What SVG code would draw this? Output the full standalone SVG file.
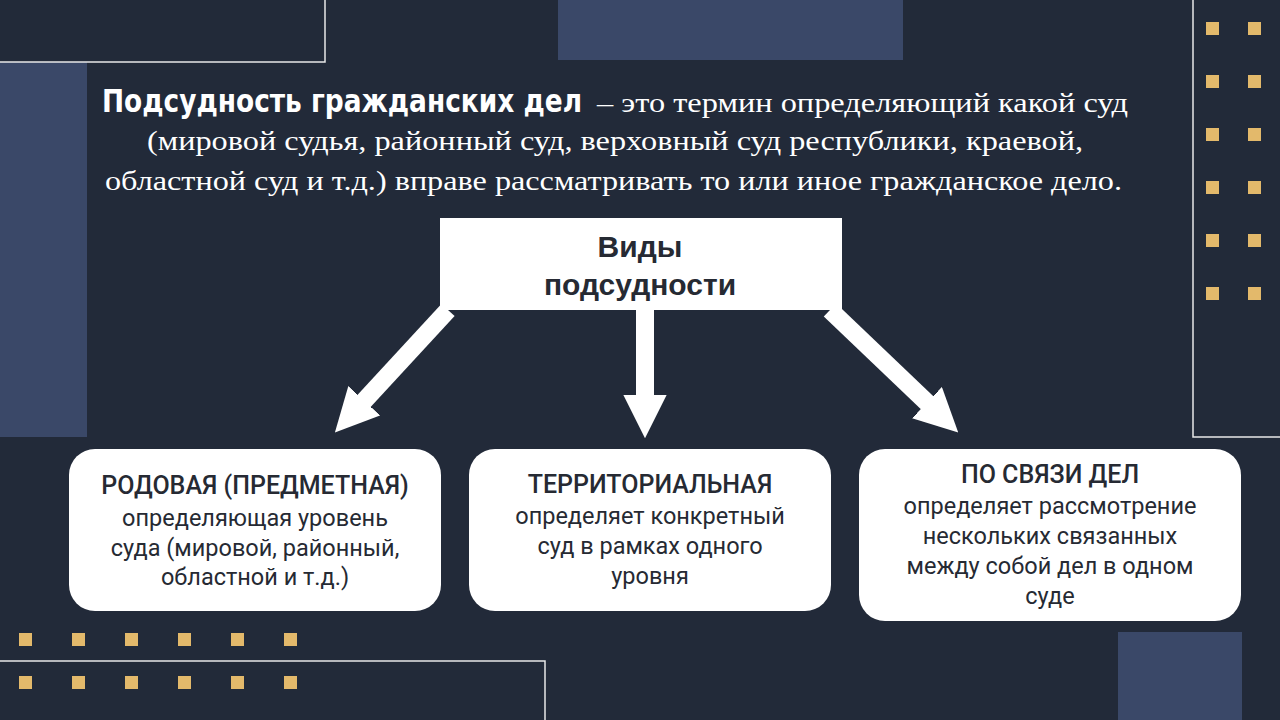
<svg xmlns="http://www.w3.org/2000/svg" width="1280" height="720" viewBox="0 0 1280 720">
<style>
.acc{fill:#3a4868}
.sq{fill:#e3b96b}
.ln{stroke:#e8e8e8;stroke-width:1.5;fill:none}
.box{fill:#fff}
.t{font-family:"Roboto","Liberation Sans",sans-serif;font-size:23.5px;fill:#262a33;text-anchor:middle}
.tb{font-weight:500;font-size:25px}
.big{font-family:"Liberation Sans",sans-serif;font-size:30px;font-weight:bold}
.ser{font-family:"Liberation Serif",serif;font-size:28px;fill:#fff}
.arr{stroke:#fff;stroke-width:18;fill:none}
</style>
<defs>
<marker id="ah" markerWidth="2.4" markerHeight="2.4" refX="1" refY="1.2" orient="auto" markerUnits="strokeWidth"><path d="M0,0 L2.4,1.2 L0,2.4 Z" fill="#fff"/></marker>
</defs>
<rect width="1280" height="720" fill="#222a39"/>
<rect class="acc" x="0" y="62" width="87" height="375"/>
<rect class="acc" x="558" y="0" width="345" height="60"/>
<rect class="acc" x="1118" y="632" width="124" height="88"/>
<path class="ln" d="M0,62 H325 V0"/>
<path class="ln" d="M1193,0 V437 H1280"/>
<path class="ln" d="M0,661 H545 V720"/>
<g>
<rect class="sq" x="1206" y="22" width="13" height="13"/><rect class="sq" x="1248" y="22" width="13" height="13"/>
<rect class="sq" x="1206" y="75" width="13" height="13"/><rect class="sq" x="1248" y="75" width="13" height="13"/>
<rect class="sq" x="1206" y="128" width="13" height="13"/><rect class="sq" x="1248" y="128" width="13" height="13"/>
<rect class="sq" x="1206" y="181" width="13" height="13"/><rect class="sq" x="1248" y="181" width="13" height="13"/>
<rect class="sq" x="1206" y="234" width="13" height="13"/><rect class="sq" x="1248" y="234" width="13" height="13"/>
<rect class="sq" x="1206" y="287" width="13" height="13"/><rect class="sq" x="1248" y="287" width="13" height="13"/>
<rect class="sq" x="19" y="633" width="13" height="13"/><rect class="sq" x="72" y="633" width="13" height="13"/><rect class="sq" x="125" y="633" width="13" height="13"/><rect class="sq" x="178" y="633" width="13" height="13"/><rect class="sq" x="231" y="633" width="13" height="13"/><rect class="sq" x="284" y="633" width="13" height="13"/>
<rect class="sq" x="19" y="676" width="13" height="13"/><rect class="sq" x="72" y="676" width="13" height="13"/><rect class="sq" x="125" y="676" width="13" height="13"/><rect class="sq" x="178" y="676" width="13" height="13"/><rect class="sq" x="231" y="676" width="13" height="13"/><rect class="sq" x="284" y="676" width="13" height="13"/>
</g>
<g id="definition">
<text x="102" y="112" font-family="'DejaVu Sans Condensed','Liberation Sans',sans-serif" font-weight="bold" font-size="32" fill="#fff" textLength="480" lengthAdjust="spacingAndGlyphs">Подсудность гражданских дел</text>
<text class="ser" x="597" y="112" textLength="531" lengthAdjust="spacingAndGlyphs">– это термин определяющий какой суд</text>
<text class="ser" x="147" y="150" textLength="936" lengthAdjust="spacingAndGlyphs">(мировой судья, районный суд, верховный суд республики, краевой,</text>
<text class="ser" x="105" y="190" textLength="1017" lengthAdjust="spacingAndGlyphs">областной суд и т.д.) вправе рассматривать то или иное гражданское дело.</text>
</g>
<g id="connectors">
<line class="arr" x1="448" y1="310" x2="352" y2="414" marker-end="url(#ah)"/>
<line class="arr" x1="645" y1="310" x2="645" y2="413" marker-end="url(#ah)"/>
<line class="arr" x1="830" y1="310" x2="940" y2="415" marker-end="url(#ah)"/>
</g>
<g id="root">
<rect class="box" x="440" y="218" width="402" height="92"/>
<text class="t big" x="640" y="257">Виды</text>
<text class="t big" x="640" y="295">подсудности</text>
</g>
<g id="node1">
<rect class="box" x="69" y="449" width="372" height="162" rx="26"/>
<text class="t tb" x="255" y="494">РОДОВАЯ (ПРЕДМЕТНАЯ)</text>
<text class="t" x="255" y="526">определяющая уровень</text>
<text class="t" x="255" y="556">суда (мировой, районный,</text>
<text class="t" x="255" y="585">областной и т.д.)</text>
</g>
<g id="node2">
<rect class="box" x="469" y="449" width="362" height="162" rx="26"/>
<text class="t tb" x="650" y="493">ТЕРРИТОРИАЛЬНАЯ</text>
<text class="t" x="650" y="524">определяет конкретный</text>
<text class="t" x="650" y="554">суд в рамках одного</text>
<text class="t" x="650" y="584">уровня</text>
</g>
<g id="node3">
<rect class="box" x="859" y="449" width="382" height="172" rx="26"/>
<text class="t tb" x="1050" y="483">ПО СВЯЗИ ДЕЛ</text>
<text class="t" x="1050" y="514">определяет рассмотрение</text>
<text class="t" x="1050" y="544">нескольких связанных</text>
<text class="t" x="1050" y="574">между собой дел в одном</text>
<text class="t" x="1050" y="604">суде</text>
</g>
</svg>
